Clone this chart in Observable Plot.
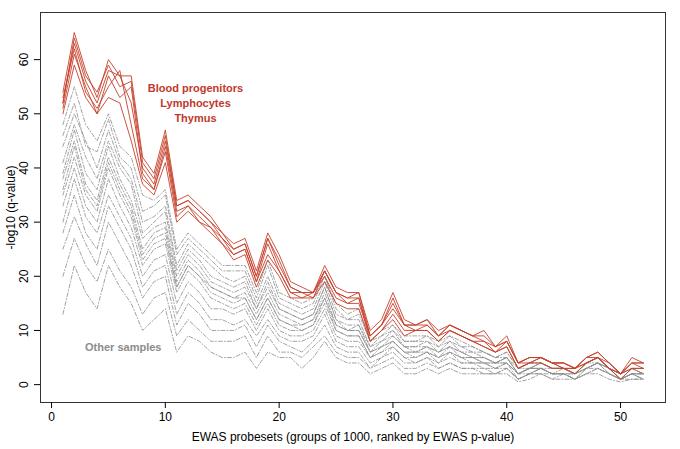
<!DOCTYPE html>
<html><head><meta charset="utf-8">
<script src="https://cdn.jsdelivr.net/npm/d3@7"></script>
<script src="https://cdn.jsdelivr.net/npm/@observablehq/plot@0.6"></script>
<style>body{margin:0;background:#fff;font-family:"Liberation Sans",Arial,sans-serif}</style>
</head><body><div id="chart"></div>
<script>
const red = [
[54,65,58,53,60,57,57,42,39,47,34,35,33,31,28,26,27,21,28,24,19,18,17,22,18,17,17,10,12,17,12,11,12,10,11,10,9,10,7,9,4,5,5,4,4,3,5,6,4,2,5,4],
[52,63,56,52,58,57,52,40,37,45,33,34,32,30,27,25,26,20,27,22,18,17,17,21,17,16,16,9,11,15,11,11,11,9,11,10,9,8,7,8,4,5,5,4,4,3,5,5,4,2,4,4],
[51,61,55,50,57,53,55,39,36,44,32,33,31,29,27,24,25,19,26,21,17,16,17,20,16,15,15,9,11,14,11,10,11,9,10,9,8,8,6,8,4,4,5,4,3,3,4,5,3,2,4,3],
[53,62,54,51,55,58,48,38,36,43,31,33,30,29,26,24,25,19,24,21,17,17,16,21,17,15,16,8,10,13,10,10,10,8,10,9,8,7,6,7,3,4,5,4,3,3,4,5,3,2,3,3],
[50,59,53,50,53,52,45,37,35,41,30,32,30,28,26,23,24,18,23,20,16,16,16,19,15,14,14,8,10,12,9,10,10,8,10,9,8,7,6,7,3,4,4,3,3,2,4,5,3,1,3,3],
[52,64,57,54,59,55,56,41,38,46,33,34,32,30,28,25,26,20,27,23,18,17,17,21,17,16,17,9,11,16,11,11,12,9,11,10,9,9,7,8,4,5,5,4,4,3,5,6,4,2,4,4]
];
const grey = [
[48,55,48,45,50,44,42,35,34,36,25,28,26,24,22,22,22,17,23,17,16,15,16,20,15,13,14,8,10,11,9,9,9,8,9,8,7,6,5,6,3,4,4,3,3,2,4,5,3,2,3,2],
[46,52,44,43,49,42,40,32,33,35,24,27,25,23,21,21,21,16,22,16,15,14,15,20,14,12,13,8,9,11,8,8,9,7,9,7,7,6,5,6,3,4,4,3,3,2,4,5,3,2,3,2],
[44,50,45,40,47,41,38,30,31,33,22,26,24,22,20,19,20,15,20,15,14,13,14,19,13,12,12,7,9,10,8,8,8,7,8,7,6,6,5,5,3,3,4,3,3,2,4,5,3,2,3,2],
[41,48,42,38,45,40,37,28,30,32,21,25,23,20,19,18,19,14,19,14,13,12,13,18,12,11,11,7,8,10,7,7,8,6,8,6,6,5,4,5,2,3,4,3,3,2,4,5,3,1,3,2],
[39,47,39,36,44,38,34,27,29,30,20,24,22,19,18,17,18,14,18,14,13,12,13,18,12,10,11,6,8,9,7,7,7,6,7,6,5,5,4,5,2,3,4,3,3,2,4,4,3,1,3,2],
[38,45,37,34,42,37,33,25,28,29,19,23,21,18,17,16,17,13,17,13,12,11,12,17,11,10,10,6,7,9,7,6,7,6,7,6,5,5,4,5,2,3,3,3,3,2,3,4,3,1,2,2],
[36,44,36,33,41,36,32,24,27,28,18,22,20,18,17,16,16,12,16,12,11,11,12,16,11,10,10,6,7,8,6,6,7,5,7,5,5,4,4,4,2,3,3,2,3,2,3,4,3,1,2,2],
[35,42,35,32,40,35,31,23,26,27,18,22,20,17,16,15,16,12,16,12,11,10,11,16,10,9,9,5,7,8,6,6,6,5,6,5,5,4,4,4,2,3,3,2,2,2,3,4,3,1,2,2],
[33,40,33,30,38,33,29,22,25,26,17,21,19,16,15,14,15,11,15,11,10,10,11,15,10,9,9,5,6,8,6,5,6,5,6,5,4,4,3,4,2,2,3,2,2,2,3,4,2,1,2,2],
[30,38,31,28,35,31,27,20,23,24,15,19,17,14,14,13,14,10,14,10,9,9,10,14,9,8,8,5,6,7,5,5,6,4,6,4,4,4,3,4,1,2,3,2,2,1,3,4,2,1,2,1],
[28,35,28,25,33,29,25,18,21,22,13,17,15,12,12,11,12,9,12,9,8,8,9,13,8,7,7,4,5,7,5,4,5,4,5,4,4,3,3,3,1,2,3,2,2,1,3,3,2,1,2,1],
[25,31,26,22,30,26,22,16,19,20,11,15,13,10,10,10,11,7,11,8,7,6,8,11,7,6,6,3,5,6,4,4,5,3,4,3,3,3,2,3,1,2,2,2,2,1,2,3,2,1,2,1],
[20,27,22,19,25,21,18,13,16,17,9,12,10,8,8,8,9,5,9,6,6,5,7,9,6,5,5,3,4,5,3,3,4,3,4,3,3,2,2,3,1,2,2,1,2,1,2,3,2,1,1,1],
[13,22,17,14,22,18,15,10,12,14,6,9,8,6,5,5,6,3,6,5,5,3,5,8,5,4,4,2,3,4,2,2,3,2,3,2,2,2,2,2,0.5,1,2,1,1,1,2,2,1,0.5,1,1]
];
const xTicks = [0,10,20,30,40,50];
const yTicks = [0,10,20,30,40,50,60];
const redLabels = ["Blood progenitors","Lymphocytes","Thymus"];
const greyLabel = "Other samples";

const toRows = (arr, grp) => arr.flatMap((s, i) => s.map((v, j) => ({x: j + 1, y: v, s: grp + i})));
const redRows = toRows(red, "r"), greyRows = toRows(grey, "g");

const chart = Plot.plot({
  width: 680, height: 449,
  marginLeft: 40, marginRight: 15, marginTop: 12, marginBottom: 47,
  style: {fontFamily: "Liberation Sans, Arial, sans-serif", fontSize: "12px", color: "#000", background: "#fff"},
  x: {domain: [-0.97, 53.95]},
  y: {domain: [-3.3, 68.7]},
  marks: [
    Plot.frame({stroke: "#333"}),
    Plot.line(greyRows, {x: "x", y: "y", z: "s", stroke: "#8c8c8c", strokeWidth: 0.8, strokeDasharray: "4,2,1,2"}),
    Plot.line(redRows, {x: "x", y: "y", z: "s", stroke: "#c6402a", strokeWidth: 0.9}),
    Plot.text(redLabels, {x: 12.65, y: (d, i) => 54.6 - i * 2.77, text: d => d, fill: "#c0392b", fontWeight: "bold", fontSize: 11}),
    Plot.text([greyLabel], {x: 6.3, y: 6.8, text: d => d, fill: "#8c8c8c", fontWeight: "bold", fontSize: 11}),
    Plot.axisX({ticks: xTicks, tickSize: 6, tickPadding: 4, fontSize: 12, label: "EWAS probesets (groups of 1000, ranked by EWAS p-value)", labelAnchor: "center", labelArrow: "none", labelOffset: 38}),
    Plot.axisY({ticks: yTicks, tickSize: 6, tickFormat: () => "", label: "-log10 (q-value)", labelAnchor: "center", labelArrow: "none", labelOffset: 34, fontSize: 12}),
    Plot.axisY({ticks: yTicks, tickSize: 0, tickPadding: 16, rotate: -90, textAnchor: "middle", fontSize: 12, label: null})
  ]
});
document.getElementById("chart").appendChild(chart);
</script></body></html>
